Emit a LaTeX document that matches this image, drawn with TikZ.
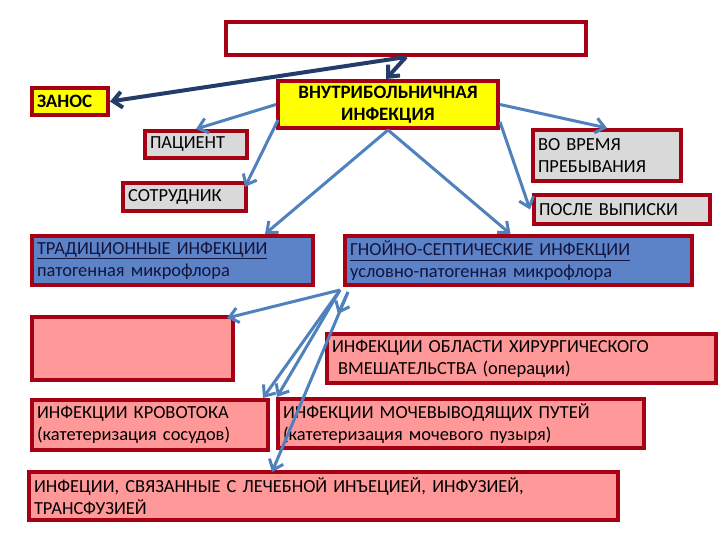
\documentclass[tikz,border=0pt]{standalone}
\usepackage{fontspec}
\setmainfont{Carlito}
\usetikzlibrary{arrows.meta,calc}
\definecolor{boxred}{RGB}{165,0,20}
\definecolor{boxyellow}{RGB}{255,255,0}
\definecolor{boxgray}{RGB}{217,217,217}
\definecolor{boxblue}{RGB}{92,130,200}
\definecolor{boxpink}{RGB}{255,152,152}
\definecolor{darkarrow}{RGB}{35,60,105}
\definecolor{lightarrow}{RGB}{79,129,189}
\definecolor{bluetext}{RGB}{20,20,60}
\begin{document}
\begin{tikzpicture}[x=1bp,y=-1bp,
  box/.style={draw=boxred,line width=4bp,anchor=north west,inner xsep=5bp,inner ysep=0pt,
    align=left,font=\fontsize{18.5}{22}\selectfont},
  boldbox/.style={box,fill=boxyellow,font=\fontsize{19}{22}\selectfont\bfseries},
  darr/.style={draw=darkarrow,line width=4bp,-{Straight Barb[length=9bp,width=16bp]}},
  larr/.style={draw=lightarrow,line width=3bp,-{Straight Barb[length=9bp,width=15bp]}}]
\useasboundingbox (0,0) rectangle (720,540);
\node[box,fill=white,text width=350bp,minimum height=33bp] (top) at (224,20) {};
\node[boldbox,text width=66bp,minimum height=27bp] (zanos) at (30,86) {ЗАНОС};
\node[boldbox,text width=210bp,minimum height=47bp,align=center] (vbi) at (276,79) {ВНУТРИБОЛЬНИЧНАЯ\\ИНФЕКЦИЯ};
\node[box,fill=boxgray,text width=92bp,minimum height=27bp] (pacient) at (143,129) {ПАЦИЕНТ};
\node[box,fill=boxgray,text width=113bp,minimum height=28bp] (sotr) at (121,181) {СОТРУДНИК};
\node[box,fill=boxgray,text width=138bp,minimum height=51bp] (vovremya) at (531,128) {ВО ВРЕМЯ\\ПРЕБЫВАНИЯ};
\node[box,fill=boxgray,text width=166bp,minimum height=29bp] (posle) at (532,193) {ПОСЛЕ ВЫПИСКИ};
\node[box,fill=boxblue,text width=271bp,minimum height=49bp,text=bluetext] (trad) at (30,234) {\underline{ТРАДИЦИОННЫЕ ИНФЕКЦИИ}\\патогенная микрофлора};
\node[box,fill=boxblue,text width=337bp,minimum height=49bp,text=bluetext] (gnoy) at (343,234) {\underline{ГНОЙНО-СЕПТИЧЕСКИЕ ИНФЕКЦИИ}\\условно-патогенная микрофлора};
\node[box,fill=boxpink,text width=191bp,minimum height=63bp] (empty) at (30,315) {};
\node[box,fill=boxpink,text width=379bp,minimum height=49bp] (hir) at (325,332) {ИНФЕКЦИИ ОБЛАСТИ ХИРУРГИЧЕСКОГО\\\hspace*{6bp}ВМЕШАТЕЛЬСТВА (операции)};
\node[box,fill=boxpink,text width=226bp,minimum height=50bp] (krov) at (30,398) {ИНФЕКЦИИ КРОВОТОКА\\(катетеризация сосудов)};
\node[box,fill=boxpink,text width=356bp,minimum height=49bp] (moch) at (276,397) {ИНФЕКЦИИ МОЧЕВЫВОДЯЩИХ ПУТЕЙ\\(катетеризация мочевого пузыря)};
\node[box,fill=boxpink,text width=579bp,minimum height=48bp] (inj) at (27,470) {ИНФЕЦИИ, СВЯЗАННЫЕ С ЛЕЧЕБНОЙ ИНЪЕЦИЕЙ, ИНФУЗИЕЙ,\\ТРАНСФУЗИЕЙ};
\draw[darr] (top.south) to (zanos.east);
\draw[darr] (top.south) to ($(vbi.north)+(-2,0)$);
\draw[larr] (vbi.west) to (pacient.north);
\draw[larr] ($(vbi.south west)+(2,-10)$) to ($(sotr.north east)+(-3,6)$);
\draw[larr] (vbi.south) to ($(trad.north east)+(-50,0)$);
\draw[larr] (vbi.south) to ($(gnoy.north)+(-8,0)$);
\draw[larr] (vbi.east) to (vovremya.north);
\draw[larr] ($(vbi.south east)+(0,-8)$) to ($(posle.west)+(-2,0)$);
\draw[larr] ($(gnoy.south west)+(-3,3)$) to ($(empty.north east)+(-8,3)$);
\draw[larr] ($(gnoy.south west)+(-3,3)$) to ($(krov.north east)+(-7,0)$);
\draw[larr] ($(gnoy.south west)+(-3,3)$) to ($(moch.north west)+(1,0)$);
\draw[larr] ($(gnoy.south west)+(5,5)$) to ($(inj.north west)+(245,2)$);
\draw[larr] ($(gnoy.south west)+(5,5)$) to ($(hir.north west)+(13,-18)$);
\end{tikzpicture}
\end{document}
